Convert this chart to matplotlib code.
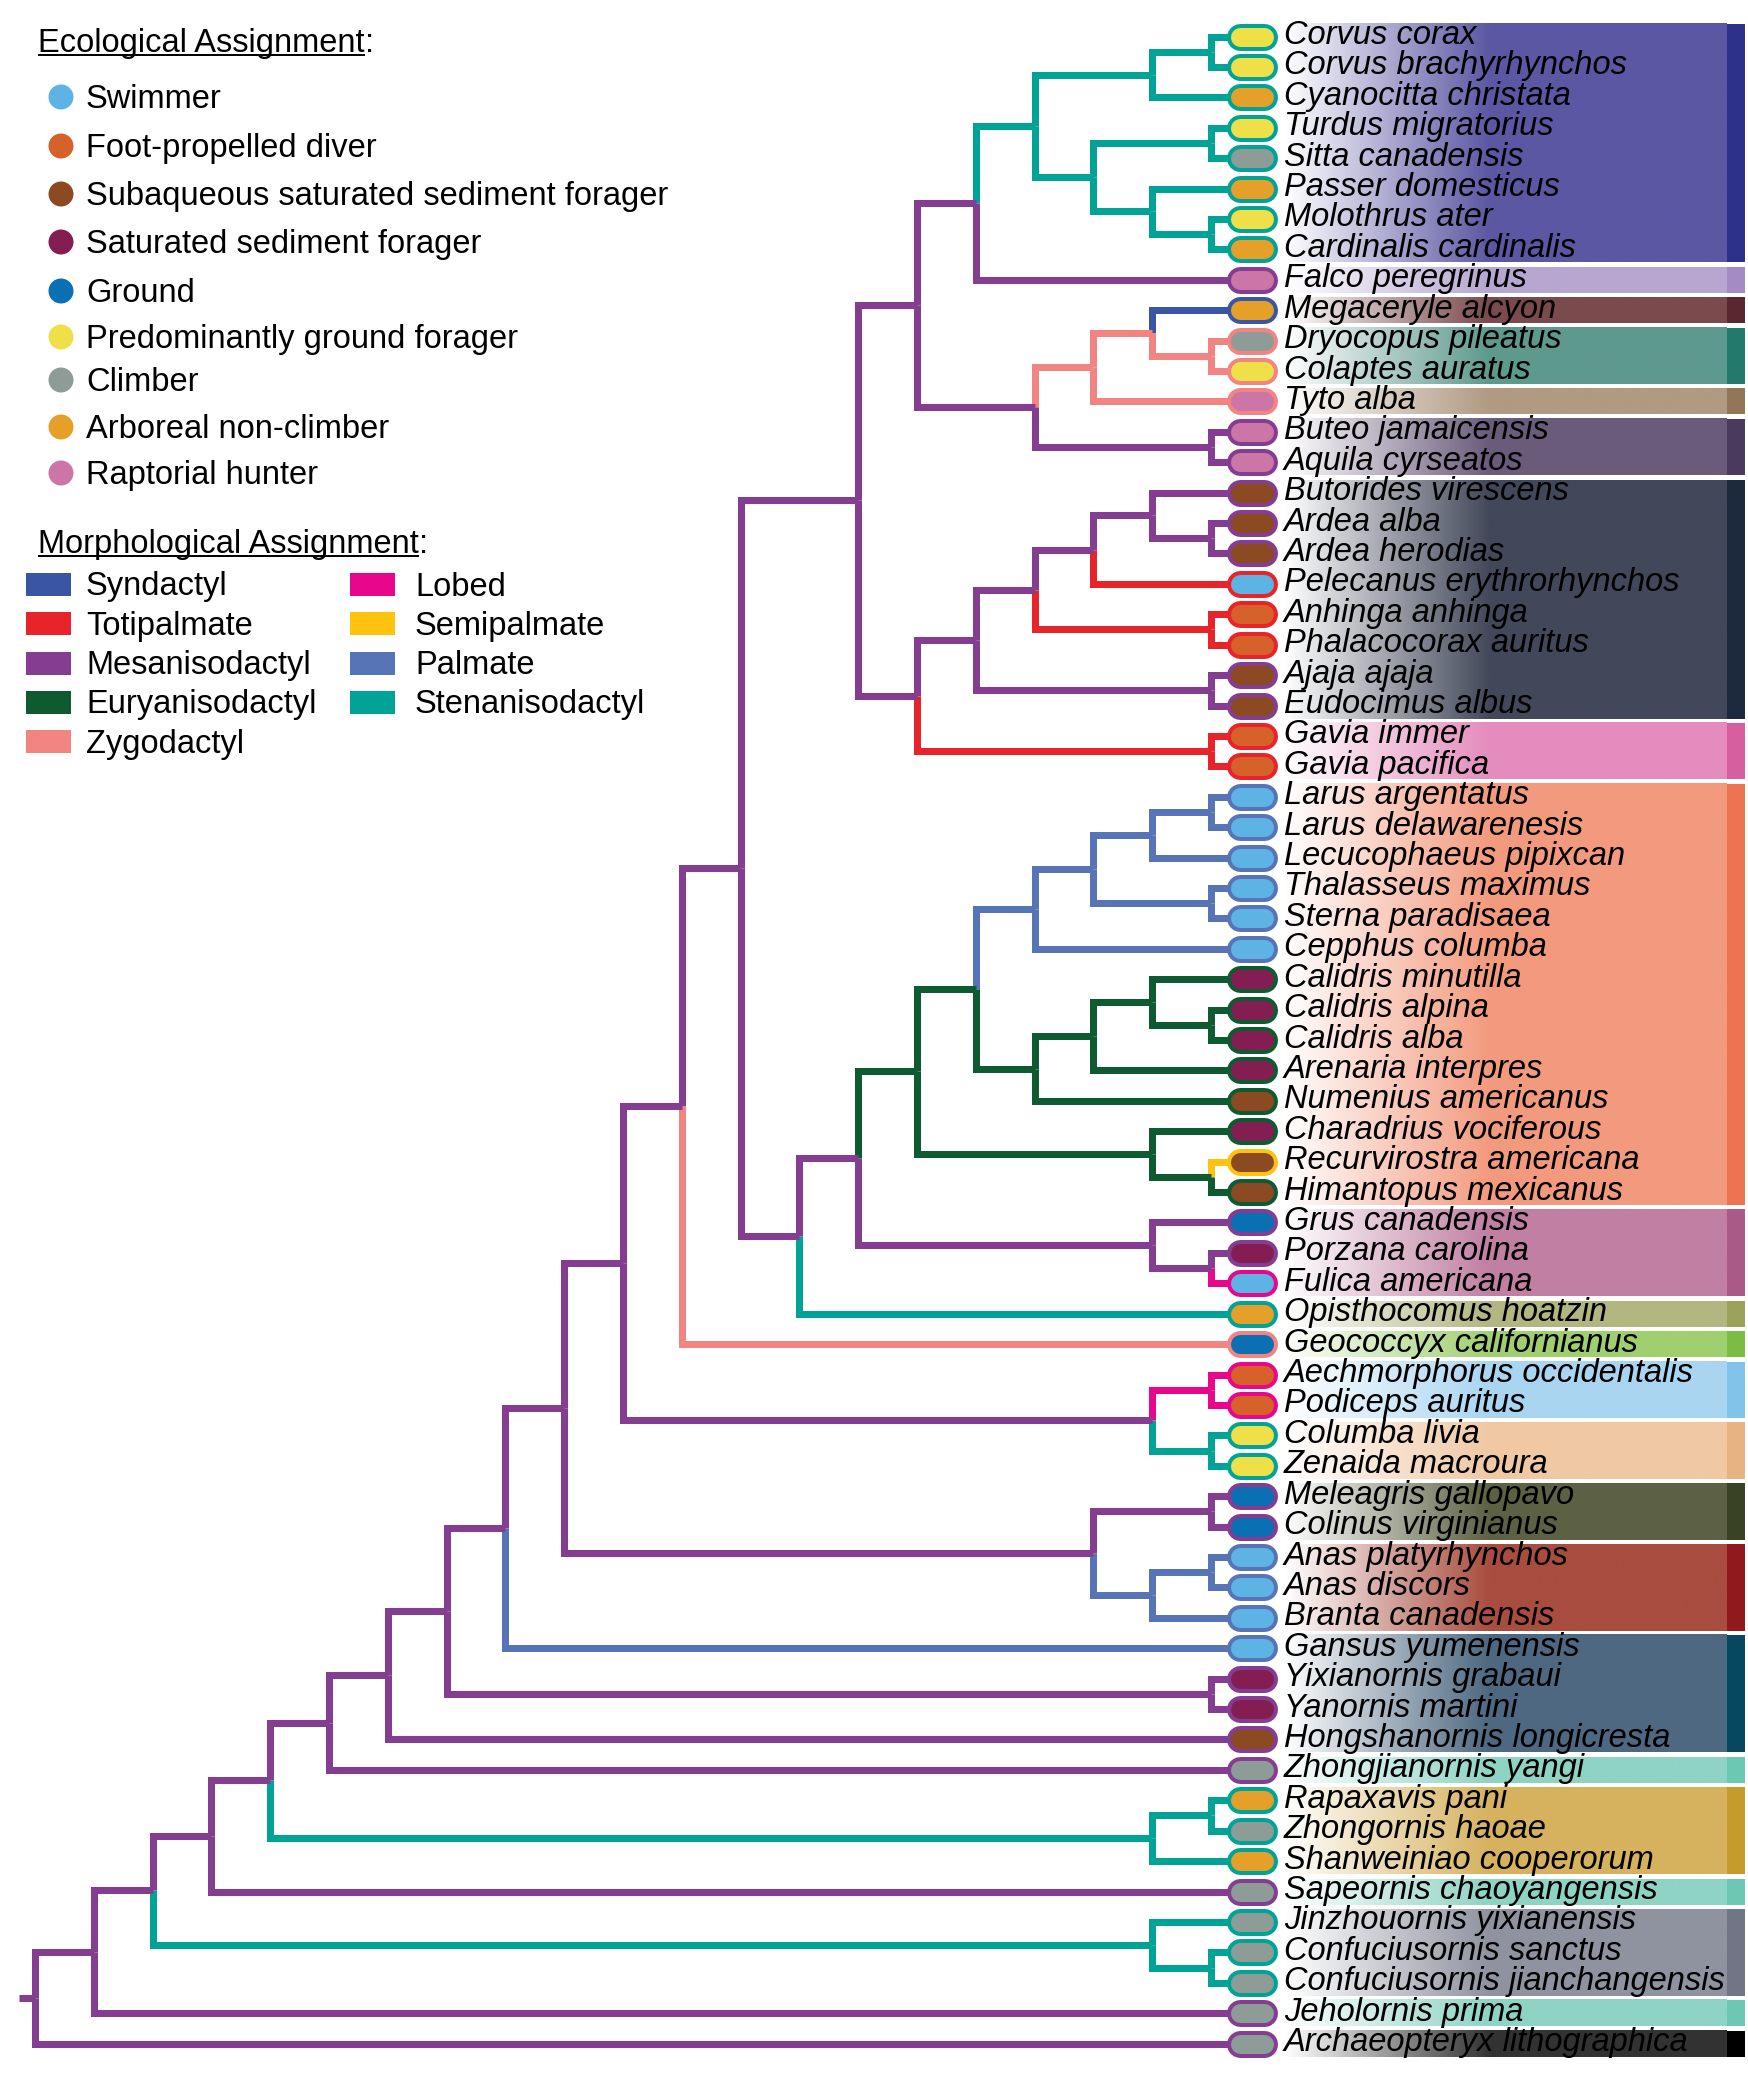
import numpy as np
import matplotlib
matplotlib.use('Agg')
import matplotlib.pyplot as plt
from matplotlib.colors import to_rgb
from matplotlib.patches import Rectangle, Circle

plt.rcParams['font.family'] = ['Liberation Sans', 'DejaVu Sans']

# ---- legend categories
eco_keys = ['swim', 'dive', 'subaq', 'sat', 'ground', 'pground', 'climb', 'arbor', 'rapt']
eco_labels = ['Swimmer', 'Foot-propelled diver', 'Subaqueous saturated sediment forager',
              'Saturated sediment forager', 'Ground', 'Predominantly ground forager',
              'Climber', 'Arboreal non-climber', 'Raptorial hunter']
eco_colors = ['#5db3e3', '#d6612a', '#8b4a22', '#841e52', '#0a6fb3', '#efe04a',
              '#8d9c97', '#e5a02a', '#cb76a6']

morph_keys = ['syn', 'toti', 'meso', 'eury', 'zygo', 'lobed', 'semi', 'palm', 'steno']
morph_labels = ['Syndactyl', 'Totipalmate', 'Mesanisodactyl', 'Euryanisodactyl', 'Zygodactyl',
                'Lobed', 'Semipalmate', 'Palmate', 'Stenanisodactyl']
morph_colors = ['#3a55a4', '#e8242a', '#853d92', '#0f5b31', '#f28482',
                '#e7068c', '#ffc20e', '#5775b6', '#00a396']

# ---- tips, top to bottom
tip_names = [
    'Corvus corax', 'Corvus brachyrhynchos', 'Cyanocitta christata', 'Turdus migratorius',
    'Sitta canadensis', 'Passer domesticus', 'Molothrus ater', 'Cardinalis cardinalis',
    'Falco peregrinus', 'Megaceryle alcyon', 'Dryocopus pileatus', 'Colaptes auratus',
    'Tyto alba', 'Buteo jamaicensis', 'Aquila cyrseatos', 'Butorides virescens',
    'Ardea alba', 'Ardea herodias', 'Pelecanus erythrorhynchos', 'Anhinga anhinga',
    'Phalacocorax auritus', 'Ajaja ajaja', 'Eudocimus albus', 'Gavia immer', 'Gavia pacifica',
    'Larus argentatus', 'Larus delawarenesis', 'Lecucophaeus pipixcan', 'Thalasseus maximus',
    'Sterna paradisaea', 'Cepphus columba', 'Calidris minutilla', 'Calidris alpina',
    'Calidris alba', 'Arenaria interpres', 'Numenius americanus', 'Charadrius vociferous',
    'Recurvirostra americana', 'Himantopus mexicanus', 'Grus canadensis', 'Porzana carolina',
    'Fulica americana', 'Opisthocomus hoatzin', 'Geococcyx californianus',
    'Aechmorphorus occidentalis', 'Podiceps auritus', 'Columba livia', 'Zenaida macroura',
    'Meleagris gallopavo', 'Colinus virginianus', 'Anas platyrhynchos', 'Anas discors',
    'Branta canadensis', 'Gansus yumenensis', 'Yixianornis grabaui', 'Yanornis martini',
    'Hongshanornis longicresta', 'Zhongjianornis yangi', 'Rapaxavis pani', 'Zhongornis haoae',
    'Shanweiniao cooperorum', 'Sapeornis chaoyangensis', 'Jinzhouornis yixianensis',
    'Confuciusornis sanctus', 'Confuciusornis jianchangensis', 'Jeholornis prima',
    'Archaeopteryx lithographica']

tip_eco = (['pground', 'pground', 'arbor', 'pground', 'climb', 'arbor', 'pground', 'arbor',
            'rapt', 'arbor', 'climb', 'pground', 'rapt', 'rapt', 'rapt',
            'subaq', 'subaq', 'subaq', 'swim', 'dive', 'dive', 'subaq', 'subaq', 'dive', 'dive']
           + ['swim'] * 6 + ['sat'] * 4 +
           ['subaq', 'sat', 'subaq', 'subaq', 'ground', 'sat', 'swim', 'arbor', 'ground',
            'dive', 'dive', 'pground', 'pground', 'ground', 'ground', 'swim', 'swim', 'swim',
            'swim', 'sat', 'sat', 'subaq', 'climb', 'arbor', 'climb', 'arbor']
           + ['climb'] * 6)

tip_morph = (['steno'] * 8 + ['meso', 'syn', 'zygo', 'zygo', 'zygo'] + ['meso'] * 5 +
             ['toti'] * 3 + ['meso', 'meso', 'toti', 'toti'] + ['palm'] * 6 + ['eury'] * 6 +
             ['semi', 'eury', 'meso', 'meso', 'lobed', 'steno', 'zygo', 'lobed', 'lobed',
              'steno', 'steno', 'meso', 'meso'] + ['palm'] * 4 + ['meso'] * 4 +
             ['steno'] * 3 + ['meso'] + ['steno'] * 3 + ['meso', 'meso'])

# ---- cladogram: (node level, incoming branch morphotype, children); ints are tips
tree = (0, 'meso', [
 (1, 'meso', [
  (2, 'meso', [
   (3, 'meso', [
    (4, 'meso', [
     (5, 'meso', [
      (6, 'meso', [
       (7, 'meso', [
        (8, 'meso', [
         (9, 'meso', [
          (10, 'meso', [
           (11, 'meso', [
            (12, 'meso', [
             (14, 'meso', [
              (15, 'meso', [
               (16, 'meso', [
                (17, 'steno', [
                 (19, 'steno', [(20, 'steno', [0, 1]), 2]),
                 (18, 'steno', [(20, 'steno', [3, 4]), (19, 'steno', [5, (20, 'steno', [6, 7])])]),
                ]),
                8,
               ]),
               (17, 'meso', [
                (18, 'zygo', [(19, 'zygo', [9, (20, 'zygo', [10, 11])]), 12]),
                (20, 'meso', [13, 14]),
               ]),
              ]),
              (15, 'meso', [
               (16, 'meso', [
                (17, 'meso', [
                 (18, 'meso', [(19, 'meso', [15, (20, 'meso', [16, 17])]), 18]),
                 (20, 'toti', [19, 20]),
                ]),
                (20, 'meso', [21, 22]),
               ]),
               (20, 'toti', [23, 24]),
              ]),
             ]),
             (13, 'meso', [
              (14, 'meso', [
               (15, 'eury', [
                (16, 'eury', [
                 (17, 'palm', [
                  (18, 'palm', [(19, 'palm', [(20, 'palm', [25, 26]), 27]),
                                (20, 'palm', [28, 29])]),
                  30,
                 ]),
                 (17, 'eury', [
                  (18, 'eury', [(19, 'eury', [31, (20, 'eury', [32, 33])]), 34]),
                  35,
                 ]),
                ]),
                (19, 'eury', [36, (20, 'eury', [37, 38])]),
               ]),
               (19, 'meso', [39, (20, 'meso', [40, 41])]),
              ]),
              42,
             ]),
            ]),
            43,
           ]),
           (19, 'meso', [(20, 'lobed', [44, 45]), (20, 'steno', [46, 47])]),
          ]),
          (18, 'meso', [(20, 'meso', [48, 49]), (19, 'palm', [(20, 'palm', [50, 51]), 52])]),
         ]),
         53,
        ]),
        (20, 'meso', [54, 55]),
       ]),
       56,
      ]),
      57,
     ]),
     (19, 'steno', [(20, 'steno', [58, 59]), 60]),
    ]),
    61,
   ]),
   (19, 'steno', [62, (20, 'steno', [63, 64])]),
  ]),
  65,
 ]),
 66,
])

# ---- clade bands: first row, last row, fill colour, edge-strip colour
band_first = [0, 8, 9, 10, 12, 13, 15, 23, 25, 39, 42, 43, 44, 46, 48, 50, 53, 57, 58, 61, 62, 65, 66]
band_last = [7, 8, 9, 11, 12, 14, 22, 24, 38, 41, 42, 43, 45, 47, 49, 52, 56, 57, 60, 61, 64, 65, 66]
band_colors = ['#5b57a3', '#b7a6d0', '#7a4a4c', '#5e998e', '#b09a82', '#6b5b7b', '#424859',
               '#e48cbd', '#f39a7e', '#c07fa3', '#b2b680', '#a0cf6f', '#a9d5f1', '#f0c8a4',
               '#5d6144', '#a84d3f', '#4d6880', '#8ed3c4', '#d6b25e', '#8ed3c4', '#8f939f',
               '#8ed3c4', '#333333']
band_strip = ['#2e3189', '#a48bc4', '#5a2630', '#23796c', '#937558', '#493a5e', '#1d2a3e',
              '#d75fa0', '#ed7352', '#ab5a88', '#9ba35a', '#7bbd44', '#80c4ec', '#e9b283',
              '#3a4224', '#90191d', '#05485f', '#6cc7b3', '#c79a2c', '#6cc7b3', '#707685',
              '#6cc7b3', '#000000']

ecol = dict(zip(eco_keys, eco_colors))
mcol = dict(zip(morph_keys, morph_colors))

# ---- layout
W, H = 1748, 2078
X0, DX = 35.0, 58.8      # level -> pixel
Y0, DY = 36.5, 30.41     # row -> pixel
PT = 0.72                # pixels -> points at dpi 100


def lev(px):
    return (px - X0) / DX


def rw(py):
    return (py - Y0) / DY


fig = plt.figure(figsize=(W / 100, H / 100), dpi=100)
leg = fig.add_axes([0, 0, 1, 1])
ax = fig.add_axes([0, 0, 1, 1])

lw_tree = 7 * PT
tip_end = lev(1251)


def ypos(node):
    if isinstance(node, int):
        return node
    ys = [ypos(c) for c in node[2]]
    return (min(ys) + max(ys)) / 2


def draw(node):
    level, _, kids = node
    y = ypos(node)
    for c in kids:
        if isinstance(c, int):
            cx, cy, cm = tip_end, c, tip_morph[c]
        else:
            cx, cy, cm = c[0], ypos(c), c[1]
            draw(c)
        ax.plot([level, level, cx], [y, cy, cy], color=mcol[cm], lw=lw_tree,
                solid_joinstyle='miter', solid_capstyle='butt', zorder=2)


draw(tree)
y_root = ypos(tree)
ax.plot([lev(19), tree[0]], [y_root, y_root], color=mcol[tree[1]], lw=lw_tree,
        solid_capstyle='butt', zorder=2)

# clade bands with white-to-colour gradient
gx0, gx1, sx0, sx1 = 1285, 1727, 1727, 1745
t = np.clip((np.linspace(gx0, gx1, 500) - gx0) / (1490 - gx0), 0, 1)
for r0, r1, c, sc in zip(band_first, band_last, band_colors, band_strip):
    top, bot = r0 - 13 / DY, r1 + 13 / DY
    rgb = np.array(to_rgb(c))
    img = 1 - t[:, None] * (1 - rgb)
    ax.imshow(img[None, :, :], extent=[lev(gx0), lev(gx1), bot, top], aspect='auto',
              interpolation='bilinear', zorder=1)
    ax.add_patch(Rectangle((lev(sx0), top), lev(sx1) - lev(sx0), bot - top,
                           facecolor=sc, edgecolor='none', zorder=1))

# tip pills and labels
for i, name in enumerate(tip_names):
    xs = [lev(1239.5), lev(1263.5)]
    ax.plot(xs, [i, i], color=mcol[tip_morph[i]], lw=27 * PT, solid_capstyle='round', zorder=4)
    ax.plot(xs, [i, i], color=ecol[tip_eco[i]], lw=19 * PT, solid_capstyle='round', zorder=5)
    ax.text(lev(1284), i + 7.5 / DY, name, fontsize=23.5, style='italic', va='baseline',
            ha='left', zorder=6)

ax.set_xlim(lev(0), lev(W))
ax.set_ylim(rw(H), rw(0))
ax.axis('off')

# ---- legends (pixel coordinates)
leg.set_xlim(0, W)
leg.set_ylim(H, 0)
leg.axis('off')

fs = 23.5
fig.canvas.draw()


def underlined_title(x, yb, label):
    txt = leg.text(x, yb, label, fontsize=fs, va='baseline', ha='left')
    bb = txt.get_window_extent(renderer=fig.canvas.get_renderer())
    x_end = bb.x1
    leg.plot([x, x_end], [yb + 3, yb + 3], color='black', lw=2 * PT, solid_capstyle='butt')
    leg.text(x_end, yb, ':', fontsize=fs, va='baseline', ha='left')


underlined_title(38, 52, 'Ecological Assignment')
eco_rows_y = [97, 146, 194, 242, 291, 337, 380, 427, 473]
for y, lab, col in zip(eco_rows_y, eco_labels, eco_colors):
    leg.add_patch(Circle((61, y), 12.5, facecolor=col, edgecolor='none'))
    leg.text(86, y + 11, lab, fontsize=fs, va='baseline', ha='left')

underlined_title(38, 553, 'Morphological Assignment')
for k, (lab, col) in enumerate(zip(morph_labels, morph_colors)):
    colm, j = (0, k) if k < 5 else (1, k - 5)
    y = 584.5 + 39.3 * j
    sq_x = 26 if colm == 0 else 350
    tx = 86 if colm == 0 else 415
    leg.add_patch(Rectangle((sq_x, y - 11.5), 44.5, 23, facecolor=col, edgecolor='none'))
    leg.text(tx, y + 11, lab, fontsize=fs, va='baseline', ha='left')

fig.savefig('out.png', dpi=100)
